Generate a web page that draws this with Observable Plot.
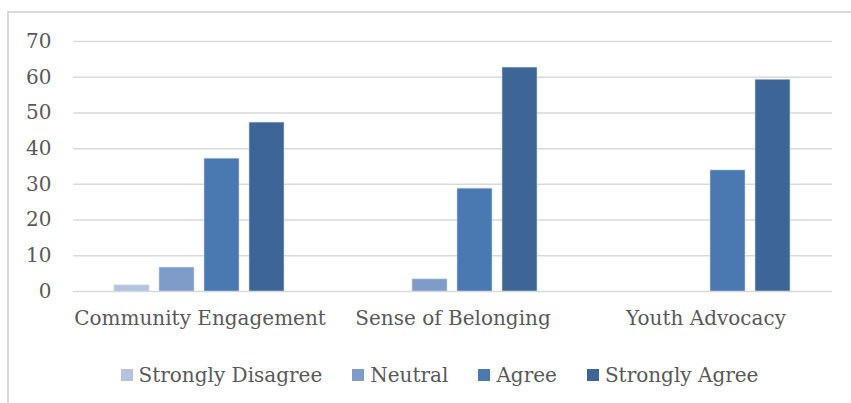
<!DOCTYPE html>
<html>
<head>
<meta charset="utf-8">
<script src="https://cdn.jsdelivr.net/npm/d3@7"></script>
<script src="https://cdn.jsdelivr.net/npm/@observablehq/plot@0.6"></script>
<style>
  html, body { margin: 0; padding: 0; background: #fff; width: 851px; height: 403px; overflow: hidden; }
  #frame { position: absolute; left: 7px; top: 11px; width: 900px; height: 450px; border-left: 2px solid #d9d9d9; border-top: 2px solid #d9d9d9; box-sizing: border-box; }
  #chart { position: absolute; left: 0; top: 0; }
  #legend { position: absolute; left: 14px; top: 362px; width: 851px; display: flex; justify-content: center; font-family: "DejaVu Serif", serif; font-size: 20px; color: #595959; line-height: 26px; }
  .item { display: flex; align-items: center; margin: 0 15px; }
  .sw { width: 12px; height: 12px; margin-right: 6px; }
</style>
</head>
<body>
<div id="frame"></div>
<div id="chart"></div>
<div id="legend"></div>
<script>
const categories = ["Community Engagement", "Sense of Belonging", "Youth Advocacy"];
const responses = ["Strongly Disagree", "Neutral", "Agree", "Strongly Agree"];
const stronglyDisagree = [1.7, 0, 0];
const neutral = [6.7, 3.4, 0];
const agree = [37.2, 28.8, 33.9];
const stronglyAgree = [47.3, 62.7, 59.3];
const colors = ["#b4c3df", "#7f9cc8", "#4a78b0", "#3d6596"];
const yTicks = [0, 10, 20, 30, 40, 50, 60, 70];

const series = [stronglyDisagree, neutral, agree, stronglyAgree];
const data = [];
categories.forEach((c, i) => {
  responses.forEach((r, j) => {
    const v = series[j][i];
    if (v > 0) data.push({category: c, response: r, value: v});
  });
});

const font = "DejaVu Serif, serif";
const chart = Plot.plot({
  width: 851,
  height: 345,
  marginLeft: 73,
  marginRight: 19,
  marginTop: 41,
  marginBottom: 54,
  style: {fontFamily: font, fontSize: "20px", color: "#595959", background: "transparent"},
  fx: {domain: categories, padding: 0, label: null},
  x: {domain: responses, paddingInner: 0.217, paddingOuter: 0.86, axis: null},
  y: {domain: [0, 70], ticks: yTicks, label: null},
  color: {domain: responses, range: colors},
  marks: [
    Plot.ruleY(yTicks, {stroke: "#d9d9d9", strokeWidth: 1.5}),
    Plot.barY(data, {fx: "category", x: "response", y: "value", fill: "response", stroke: "#c9d6ea", strokeWidth: 0.6, inset: 0}),
    Plot.axisY({ticks: yTicks, tickSize: 0, tickPadding: 22, fontSize: 20, fill: "#595959", label: null}),
    Plot.axisFx({tickSize: 0, tickPadding: 19, fontSize: 20, fill: "#595959", label: null, anchor: "bottom"})
  ]
});
document.getElementById("chart").appendChild(chart);

const legend = document.getElementById("legend");
responses.forEach((r, j) => {
  const it = document.createElement("div");
  it.className = "item";
  const sw = document.createElement("div");
  sw.className = "sw";
  sw.style.background = colors[j];
  const t = document.createElement("span");
  t.textContent = r;
  it.appendChild(sw);
  it.appendChild(t);
  legend.appendChild(it);
});
</script>
</body>
</html>
